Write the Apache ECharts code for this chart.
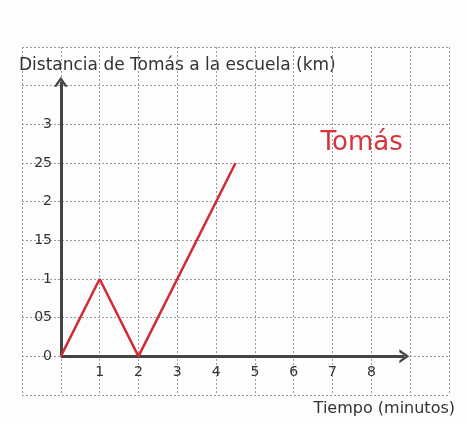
<!DOCTYPE html>
<html>
<head>
<meta charset="utf-8">
<script src="https://cdn.jsdelivr.net/npm/echarts@6/dist/echarts.min.js"></script>
<style>
  html, body { margin: 0; padding: 0; background: #ffffff; }
  #chart { width: 469px; height: 425px; }
</style>
</head>
<body>
<div id="chart"></div>
<script>
// tiempo (minutos) y distancia (km) de Tomás
var tiempo = [0, 1, 2, 4.5];
var distancia = [0, 1, 0, 2.5];

var xTickValues = [1, 2, 3, 4, 5, 6, 7, 8];
var xTickLabels = ['1', '2', '3', '4', '5', '6', '7', '8'];
var yTickValues = [0, 0.5, 1, 1.5, 2, 2.5, 3];
var yTickLabels = ['0', '05', '1', '15', '2', '25', '3'];

// extremos de las flechas de los ejes
var xArrowEnd = [8.85, 0];
var yArrowEnd = [0, 3.55];
var nombrePos = [7.75, 2.75];

var chart = echarts.init(document.getElementById('chart'));
var axisColor = '#444';
var arrowPath = 'path://M0,10 L5,0 L10,10 L8,10 L5,4 L2,10 Z';

var option = {
    backgroundColor: '#fdfdfd',
    animation: false,
    textStyle: { fontFamily: 'DejaVu Sans' },
    grid: { left: 22, right: 20, top: 47, bottom: 30, outerBoundsMode: 'none' },
    graphic: [
        {
            type: 'text', left: 19, top: 57,
            style: { text: 'Distancia de Tomás a la escuela (km)', fill: '#333', font: '17px "DejaVu Sans"' }
        },
        {
            type: 'text', right: 14, top: 401,
            style: { text: 'Tiempo (minutos)', fill: '#333', font: '16px "DejaVu Sans"' }
        }
    ],
    xAxis: {
        type: 'value', min: -1, max: 10, interval: 1,
        offset: -39,   // lleva las etiquetas a la altura del cero
        axisLine: { show: false },
        axisTick: { show: false },
        axisLabel: {
            margin: 9, color: '#333', fontSize: 14,
            formatter: function (v) {
                var i = xTickValues.indexOf(v);
                return i >= 0 ? xTickLabels[i] : '';
            }
        },
        splitLine: { show: true, lineStyle: { type: [2, 2], color: '#9a9a9a', width: 1 } }
    },
    yAxis: {
        type: 'value', min: -0.5, max: 4, interval: 0.5,
        offset: -39,
        axisLine: { show: false },
        axisTick: { show: false },
        axisLabel: {
            margin: 9, color: '#333', fontSize: 14,
            formatter: function (v) {
                var i = yTickValues.indexOf(v);
                return i >= 0 ? yTickLabels[i] : '';
            }
        },
        splitLine: { show: true, lineStyle: { type: [2, 2], color: '#9a9a9a', width: 1 } }
    },
    series: [
        {
            name: 'ejes',
            type: 'line',
            data: [],
            silent: true,
            markLine: {
                silent: true,
                symbol: ['none', arrowPath],
                symbolSize: [14, 10],
                label: { show: false },
                lineStyle: { color: axisColor, width: 3, type: 'solid' },
                data: [
                    [{ coord: [0, 0] }, { coord: xArrowEnd }],
                    [{ coord: [0, 0] }, { coord: yArrowEnd }]
                ]
            }
        },
        {
            name: 'Tomás',
            type: 'line',
            data: tiempo.map(function (t, i) { return [t, distancia[i]]; }),
            showSymbol: false,
            lineStyle: { color: '#d42a35', width: 2.5 },
            z: 5,
            markPoint: {
                symbolSize: 0,
                label: { show: true, formatter: 'Tomás', color: '#d8333d', fontSize: 26, fontFamily: 'DejaVu Sans' },
                data: [{ coord: nombrePos }]
            }
        }
    ]
};

chart.setOption(option);
window.addEventListener('resize', function () {
    chart.resize();
});
</script>
</body>
</html>
